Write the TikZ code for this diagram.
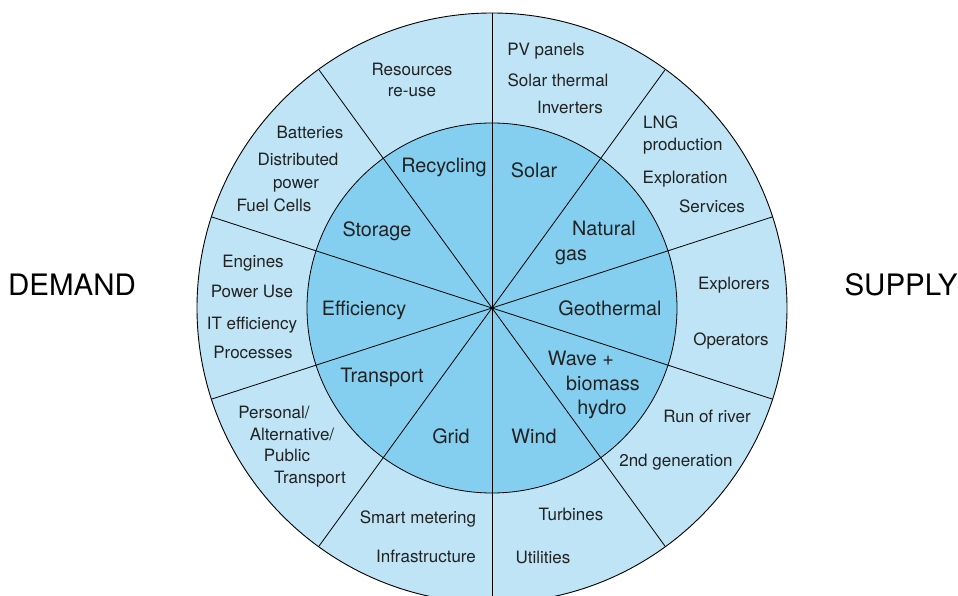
\documentclass[tikz,border=0pt]{standalone}
\usepackage{fontspec}
\setmainfont{TeX Gyre Heros}
\usepackage{xcolor}
\usepackage{tikz}

\definecolor{ringout}{RGB}{190,228,246}
\definecolor{ringin}{RGB}{132,207,239}
\definecolor{txt}{RGB}{34,34,34}

\begin{document}
\begin{tikzpicture}[x=1pt, y=1pt,
  every node/.style={inner sep=0, text=txt, anchor=mid},
  outerlbl/.style={font=\fontsize{17}{19}\selectfont, yshift=-5pt},
  innerlbl/.style={font=\fontsize{19.8}{22}\selectfont, yshift=-5pt},
  sidelbl/.style={font=\fontsize{29.5}{31}\selectfont, text=black, yshift=-9pt}]
  \useasboundingbox (-492,-288) rectangle (466,308);

  % Rings
  \coordinate (c) at (0,0);
  \fill[ringout] (c) circle (295);
  \fill[ringin] (c) circle (185);
  \draw[line width=0.9pt] (c) circle (295);
  \draw[line width=0.8pt] (c) circle (185);

  % Spokes
  \foreach \a [count=\i] in {90,54,18,-18,-54,-90,-126,-162,162,126}{
    \coordinate (e\i) at (\a:295);
    \draw[line width=0.8pt] (c) -- (e\i);
  }

  % Sides
  \node[sidelbl] (demand) at (-420,24) {DEMAND};
  \node[sidelbl] (supply) at (409,24) {SUPPLY};

  % Inner ring
  \node[innerlbl] (recycling) at (-48,143) {Recycling};
  \node[innerlbl] (solar) at (42,138) {Solar};
  \node[innerlbl] (natural) at (112,80) {Natural};
  \node[innerlbl] (gas) at (79,55) {gas};
  \node[innerlbl] (geo) at (118,0) {Geothermal};
  \node[innerlbl] (wave) at (89,-50) {Wave +};
  \node[innerlbl] (biomass) at (111,-75) {biomass};
  \node[innerlbl] (hydro) at (110,-99) {hydro};
  \node[innerlbl] (wind) at (42,-128) {Wind};
  \node[innerlbl] (grid) at (-41,-128) {Grid};
  \node[innerlbl] (transport) at (-110,-67) {Transport};
  \node[innerlbl] (efficiency) at (-128,0) {Efficiency};
  \node[innerlbl] (storage) at (-115,79) {Storage};

  % Outer ring, supply side
  \node[outerlbl] (pv) at (54,260) {PV panels};
  \node[outerlbl] (thermal) at (66,229) {Solar thermal};
  \node[outerlbl] (inverters) at (78,202) {Inverters};
  \node[outerlbl, anchor=base west] (lng) at (151,184) {LNG};
  \node[outerlbl, anchor=base west] (production) at (151,162) {production};
  \node[outerlbl] (exploration) at (193,132) {Exploration};
  \node[outerlbl] (services) at (220,103) {Services};
  \node[outerlbl] (explorers) at (242,26) {Explorers};
  \node[outerlbl] (operators) at (239,-30) {Operators};
  \node[outerlbl] (river) at (215,-107) {Run of river};
  \node[outerlbl] (second) at (184,-151) {2nd generation};
  \node[outerlbl] (turbines) at (79,-205) {Turbines};
  \node[outerlbl] (utilities) at (51,-248) {Utilities};

  % Outer ring, demand side
  \node[outerlbl] (metering) at (-74,-208) {Smart metering};
  \node[outerlbl] (infra) at (-66,-247) {Infrastructure};
  \node[outerlbl] (personal) at (-218,-103) {Personal/};
  \node[outerlbl] (alternative) at (-200,-125) {Alternative/};
  \node[outerlbl] (public) at (-205,-146) {Public};
  \node[outerlbl] (ptransport) at (-182,-168) {Transport};
  \node[outerlbl] (processes) at (-239,-43) {Processes};
  \node[outerlbl] (it) at (-240,-14) {IT efficiency};
  \node[outerlbl] (poweruse) at (-240,18) {Power Use};
  \node[outerlbl] (engines) at (-239,48) {Engines};
  \node[outerlbl] (fuel) at (-218,104) {Fuel Cells};
  \node[outerlbl] (power) at (-196,127) {power};
  \node[outerlbl] (distributed) at (-194,150) {Distributed};
  \node[outerlbl] (batteries) at (-182,177) {Batteries};
  \node[outerlbl] (resources) at (-80,240) {Resources};
  \node[outerlbl] (reuse) at (-80,219) {re-use};
\end{tikzpicture}
\end{document}
